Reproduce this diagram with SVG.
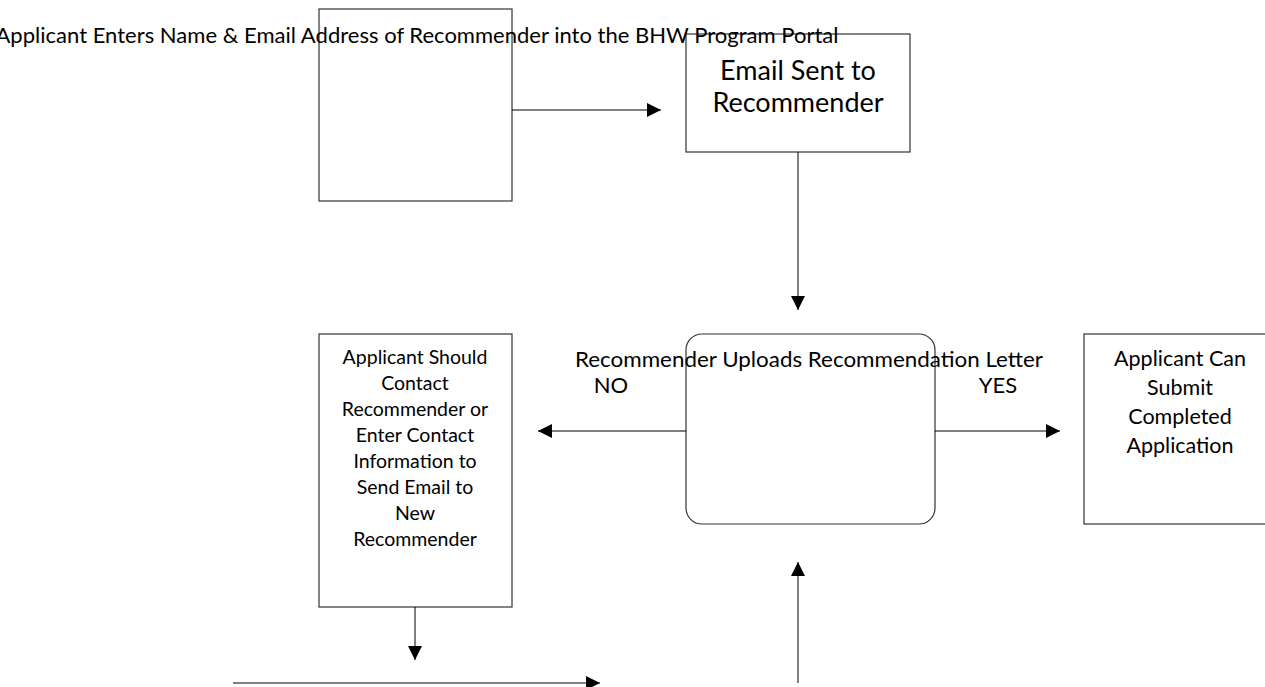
<svg xmlns="http://www.w3.org/2000/svg" width="1265" height="687" viewBox="0 0 1265 687">
<style>
.box{fill:#fff;stroke:#333;stroke-width:1.2}
.ln{stroke:#000;stroke-width:1;fill:none;marker-end:url(#ah)}
text{font-family:Lato,"Liberation Sans",sans-serif;fill:#000}
</style>
<defs>
<marker id="ah" viewBox="0 0 10 10" refX="10" refY="5" markerWidth="14" markerHeight="14" markerUnits="userSpaceOnUse" orient="auto">
<path d="M0,0 L10,5 L0,10 Z" fill="#000"/>
</marker>
</defs>
<rect width="1265" height="687" fill="#fff"/>
<g id="n1"><rect class="box" x="319" y="9" width="193" height="192"/></g>
<g id="n2"><rect class="box" x="686" y="34" width="224" height="118"/>
<text x="798" y="80" font-size="27" text-anchor="middle">Email Sent to</text>
<text x="798" y="112" font-size="27" text-anchor="middle">Recommender</text></g>
<g id="n3"><rect class="box" x="686" y="334" width="249" height="190" rx="16"/></g>
<g id="n4"><rect class="box" x="319" y="334" width="193" height="273"/>
<g font-size="19.5" text-anchor="middle">
<text x="415" y="364">Applicant Should</text>
<text x="415" y="390">Contact</text>
<text x="415" y="416">Recommender or</text>
<text x="415" y="442">Enter Contact</text>
<text x="415" y="468">Information to</text>
<text x="415" y="494">Send Email to</text>
<text x="415" y="520">New</text>
<text x="415" y="546">Recommender</text>
</g></g>
<g id="n5"><rect class="box" x="1084" y="334" width="190" height="190"/>
<g font-size="21.5" text-anchor="middle">
<text x="1180" y="366">Applicant Can</text>
<text x="1180" y="395">Submit</text>
<text x="1180" y="424">Completed</text>
<text x="1180" y="453">Application</text>
</g></g>
<g id="connectors">
<line class="ln" x1="512" y1="110" x2="661" y2="110"/>
<line class="ln" x1="798" y1="152" x2="798" y2="310"/>
<line class="ln" x1="686" y1="431" x2="538" y2="431"/>
<line class="ln" x1="935" y1="431" x2="1060" y2="431"/>
<line class="ln" x1="415" y1="607" x2="415" y2="660"/>
<line class="ln" x1="233" y1="683" x2="600" y2="683"/>
<line class="ln" x1="798" y1="683" x2="798" y2="562"/>
</g>
<g id="labels">
<text x="417" y="43" font-size="22" text-anchor="middle" textLength="843" lengthAdjust="spacingAndGlyphs">Applicant Enters Name &amp; Email Address of Recommender into the BHW Program Portal</text>
<text x="809" y="367" font-size="22" text-anchor="middle" textLength="468" lengthAdjust="spacingAndGlyphs">Recommender Uploads Recommendation Letter</text>
<text x="611" y="393" font-size="22" text-anchor="middle">NO</text>
<text x="998" y="393" font-size="22" text-anchor="middle">YES</text>
</g>
</svg>
